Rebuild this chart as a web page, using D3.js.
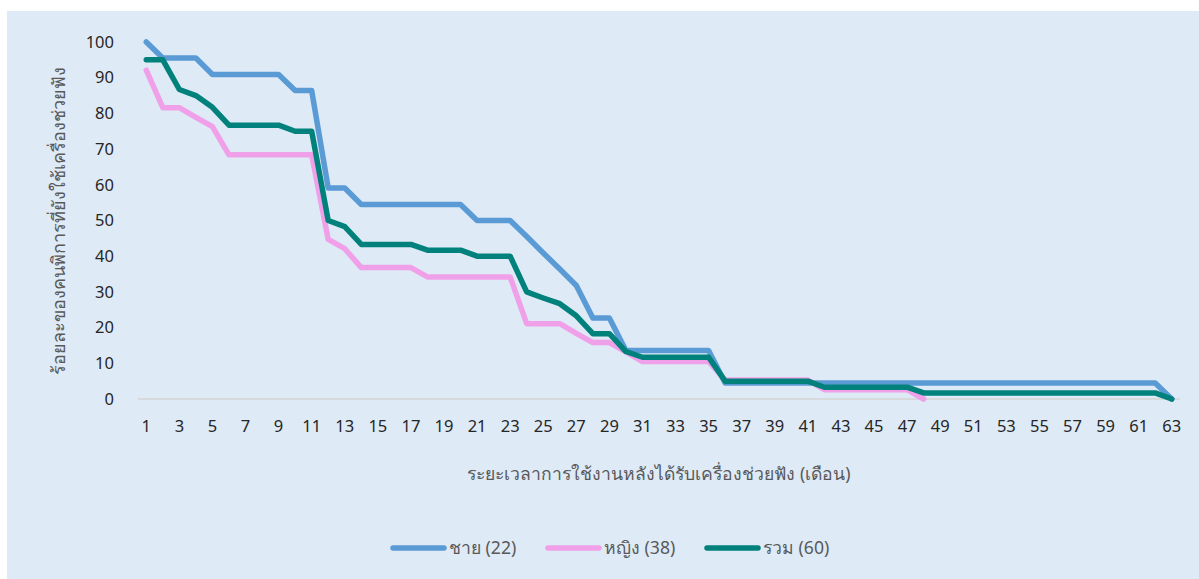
<!DOCTYPE html>
<html>
<head>
<meta charset="utf-8">
<script src="https://cdn.jsdelivr.net/npm/d3@7"></script>
<style>
  html, body { margin: 0; padding: 0; background: #ffffff; }
  svg { display: block; }
  text { font-family: "Noto Sans", "DejaVu Sans", sans-serif; }
</style>
</head>
<body>
<svg id="chart" width="1199" height="579"></svg>
<script>
// Months after hearing-aid fitting (1..63)
const months = d3.range(1, 64);

// Percentage of users still wearing hearing aids, by month
const male = [100, 95.5, 95.5, 95.5, 90.9, 90.9, 90.9, 90.9, 90.9, 86.4,
  86.4, 59.1, 59.1, 54.5, 54.5, 54.5, 54.5, 54.5, 54.5, 54.5,
  50, 50, 50, 45.5, 40.9, 36.4, 31.8, 22.7, 22.7, 13.6,
  13.6, 13.6, 13.6, 13.6, 13.6, 4.5, 4.5, 4.5, 4.5, 4.5,
  4.5, 4.5, 4.5, 4.5, 4.5, 4.5, 4.5, 4.5, 4.5, 4.5,
  4.5, 4.5, 4.5, 4.5, 4.5, 4.5, 4.5, 4.5, 4.5, 4.5,
  4.5, 4.5, 0];

const female = [92.1, 81.6, 81.6, 78.9, 76.3, 68.4, 68.4, 68.4, 68.4, 68.4,
  68.4, 44.7, 42.1, 36.8, 36.8, 36.8, 36.8, 34.2, 34.2, 34.2,
  34.2, 34.2, 34.2, 21.1, 21.1, 21.1, 18.4, 15.8, 15.8, 13.2,
  10.5, 10.5, 10.5, 10.5, 10.5, 5.3, 5.3, 5.3, 5.3, 5.3,
  5.3, 2.6, 2.6, 2.6, 2.6, 2.6, 2.6, 0];

const total = [95, 95, 86.7, 85, 81.7, 76.7, 76.7, 76.7, 76.7, 75,
  75, 50, 48.3, 43.3, 43.3, 43.3, 43.3, 41.7, 41.7, 41.7,
  40, 40, 40, 30, 28.3, 26.7, 23.3, 18.3, 18.3, 13.3,
  11.7, 11.7, 11.7, 11.7, 11.7, 5, 5, 5, 5, 5,
  5, 3.3, 3.3, 3.3, 3.3, 3.3, 3.3, 1.7, 1.7, 1.7,
  1.7, 1.7, 1.7, 1.7, 1.7, 1.7, 1.7, 1.7, 1.7, 1.7,
  1.7, 1.7, 0];

const yTicks = d3.range(0, 101, 10);
const xTickLabels = months.filter(m => m % 2 === 1);

const seriesNames = ["ชาย (22)", "หญิง (38)", "รวม (60)"];
const seriesValues = [male, female, total];
const seriesColors = ["#5B9BD5", "#F0A0E8", "#00817B"];

const xTitle = "ระยะเวลาการใช้งานหลังได้รับเครื่องช่วยฟัง (เดือน)";
const yTitle = "ร้อยละของคนพิการที่ยังใช้เครื่องช่วยฟัง";

const svg = d3.select("#chart");

// chart background panel
svg.append("rect")
  .attr("x", 7).attr("y", 11)
  .attr("width", 1199 - 7).attr("height", 579 - 11)
  .attr("fill", "#DEEAF6");

const plot = { left: 138, right: 1180, top: 42, bottom: 399 };

const x = d3.scaleBand()
  .domain(months)
  .range([plot.left, plot.right]);

const y = d3.scaleLinear()
  .domain([0, 100])
  .range([plot.bottom, plot.top]);

// horizontal category axis line
svg.append("line")
  .attr("x1", plot.left).attr("x2", plot.right)
  .attr("y1", y(0)).attr("y2", y(0))
  .attr("stroke", "#D5D5D5").attr("stroke-width", 1.5);

// y axis labels
const yAxis = d3.axisLeft(y).tickValues(yTicks).tickSize(0).tickPadding(0);
const gy = svg.append("g")
  .attr("transform", `translate(${plot.left - 24},0)`)
  .call(yAxis);
gy.select(".domain").remove();
gy.selectAll("text")
  .attr("font-size", 16.5)
  .attr("fill", "#262626");

// x axis labels (every other month)
const xAxis = d3.axisBottom(x)
  .tickValues(xTickLabels)
  .tickSize(0)
  .tickPadding(0);
const gx = svg.append("g")
  .attr("transform", `translate(0,${plot.bottom + 21})`)
  .call(xAxis);
gx.select(".domain").remove();
gx.selectAll("text")
  .attr("dy", "0.71em")
  .attr("font-size", 16.5)
  .attr("fill", "#262626");

// axis titles
svg.append("text")
  .attr("x", 659)
  .attr("y", 480)
  .attr("text-anchor", "middle")
  .attr("font-size", 17.6)
  .attr("fill", "#595959")
  .text(xTitle);

svg.append("text")
  .attr("transform", `translate(65,${(plot.top + plot.bottom) / 2}) rotate(-90)`)
  .attr("text-anchor", "middle")
  .attr("font-size", 18)
  .attr("fill", "#595959")
  .text(yTitle);

// survival lines
const line = d3.line()
  .x((d, i) => x(months[i]) + x.bandwidth() / 2)
  .y(d => y(d));

seriesValues.forEach((vals, k) => {
  svg.append("path")
    .datum(vals)
    .attr("d", line)
    .attr("fill", "none")
    .attr("stroke", seriesColors[k])
    .attr("stroke-width", 5.5)
    .attr("stroke-linejoin", "round")
    .attr("stroke-linecap", "round");
});

// legend
const legendX = [391, 546, 705];
const legend = svg.append("g");
seriesNames.forEach((name, k) => {
  legend.append("line")
    .attr("x1", legendX[k] + 2).attr("x2", legendX[k] + 53)
    .attr("y1", 548).attr("y2", 548)
    .attr("stroke", seriesColors[k])
    .attr("stroke-width", 5.5)
    .attr("stroke-linecap", "round");
  legend.append("text")
    .attr("x", legendX[k] + 58)
    .attr("y", 554)
    .attr("font-size", 17.6)
    .attr("fill", "#595959")
    .text(name);
});
</script>
</body>
</html>
